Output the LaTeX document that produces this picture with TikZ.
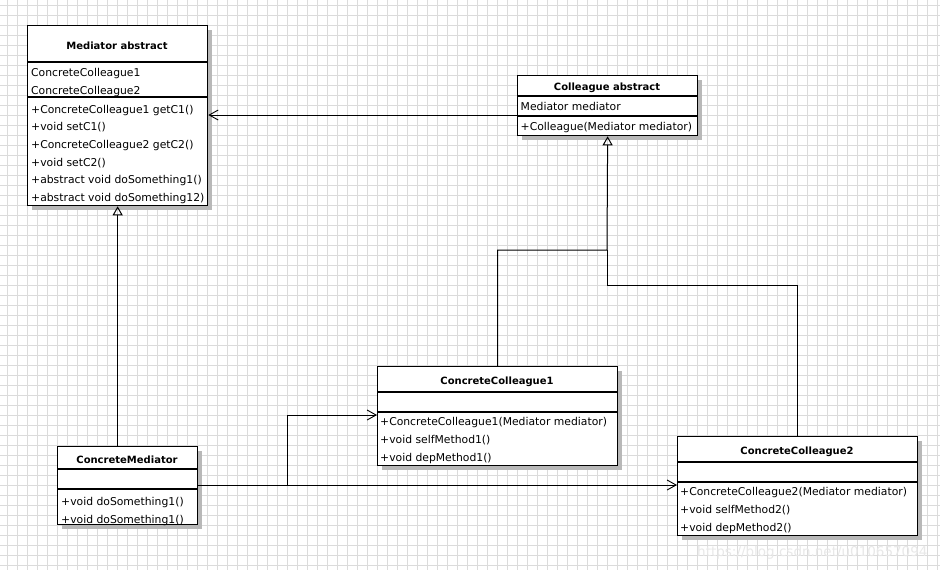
\documentclass[tikz,border=0pt]{standalone}
\usepackage{fontspec}
\setmainfont{DejaVu Sans}
\usetikzlibrary{arrows.meta,shadows}
\begin{document}
\begin{tikzpicture}[x=1pt,y=-1pt,
  gridline/.style={draw=black!14, line width=1pt},
  umlbox/.style={draw=black, line width=1.3pt, fill=white, inner sep=0pt, anchor=north west,
    general shadow={fill=black!28, shadow xshift=4pt, shadow yshift=-4pt}},
  sep/.style={draw=black, line width=1.2pt},
  title/.style={font=\fontsize{10}{12}\selectfont\bfseries, anchor=base, inner sep=0pt},
  row/.style={font=\fontsize{10.8}{13}\selectfont, anchor=base west, inner sep=0pt},
  conn/.style={draw=black, line width=1pt},
  assoc/.style={conn, -{Straight Barb[length=9pt, width=10pt, line width=0.9pt]}},
  gen/.style={conn, -{Triangle[open, length=9pt, width=10pt, line width=1pt]}}]
\useasboundingbox (0,0) rectangle (940,570);
\fill[white] (0,0) rectangle (940,570);
% grid
\foreach \gx in {7,17,...,937} \draw[gridline] (\gx,0) -- (\gx,570);
\foreach \gy in {5,15,...,565} \draw[gridline] (0,\gy) -- (940,\gy);

% connectors (drawn first, boxes cover ends)
\coordinate (j) at (607,250);
\coordinate (k) at (607,285);
\coordinate (b) at (287,485);

% boxes
\node[umlbox, minimum width=180pt, minimum height=180pt] (ma) at (27,25) {};
\node[umlbox, minimum width=180pt, minimum height=60pt] (ca) at (517,75) {};
\node[umlbox, minimum width=240pt, minimum height=99pt] (cc1) at (377,366) {};
\node[umlbox, minimum width=140pt, minimum height=78pt] (cm) at (57,446) {};
\node[umlbox, minimum width=240pt, minimum height=99pt] (cc2) at (677,436) {};

% separators
\draw[sep] (ma.west |- 0,62) -- (ma.east |- 0,62);
\draw[sep] (ma.west |- 0,97) -- (ma.east |- 0,97);
\draw[sep] (ca.west |- 0,96) -- (ca.east |- 0,96);
\draw[sep] (ca.west |- 0,116) -- (ca.east |- 0,116);
\draw[sep] (cc1.west |- 0,392) -- (cc1.east |- 0,392);
\draw[sep] (cc1.west |- 0,412) -- (cc1.east |- 0,412);
\draw[sep] (cm.west |- 0,469) -- (cm.east |- 0,469);
\draw[sep] (cm.west |- 0,489) -- (cm.east |- 0,489);
\draw[sep] (cc2.west |- 0,462) -- (cc2.east |- 0,462);
\draw[sep] (cc2.west |- 0,482) -- (cc2.east |- 0,482);

% texts: Mediator abstract
\node[title] (mat) at (117,49) {Mediator abstract};
\node[row] (ma1) at (31,76.5) {ConcreteColleague1};
\node[row] (ma2) at (31,94) {ConcreteColleague2};
\node[row] (ma3) at (31,113) {+ConcreteColleague1 getC1()};
\node[row] (ma4) at (31,130.7) {+void setC1()};
\node[row] (ma5) at (31,148.4) {+ConcreteColleague2 getC2()};
\node[row] (ma6) at (31,166.1) {+void setC2()};
\node[row] (ma7) at (31,183.8) {+abstract void doSomething1()};
\node[row] (ma8) at (31,201.5) {+abstract void doSomething12)};

% Colleague abstract
\node[title] (cat) at (607,90.5) {Colleague abstract};
\node[row] (ca1) at (520.5,110) {Mediator mediator};
\node[row] (ca2) at (520.5,130) {+Colleague(Mediator mediator)};

% ConcreteColleague1
\node[title] (cc1t) at (497,384) {ConcreteColleague1};
\node[row] (cc1a) at (380,425.7) {+ConcreteColleague1(Mediator mediator)};
\node[row] (cc1b) at (380,443.5) {+void selfMethod1()};
\node[row] (cc1c) at (380,461.5) {+void depMethod1()};

% ConcreteMediator
\node[title] (cmt) at (127,463.3) {ConcreteMediator};
\node[row] (cm1) at (61,505) {+void doSomething1()};
\node[row] (cm2) at (61,523) {+void doSomething1()};

% ConcreteColleague2
\node[title] (cc2t) at (797,454) {ConcreteColleague2};
\node[row] (cc2a) at (680,495.7) {+ConcreteColleague2(Mediator mediator)};
\node[row] (cc2b) at (680,513.5) {+void selfMethod2()};
\node[row] (cc2c) at (680,531.5) {+void depMethod2()};

% connectors
\draw[assoc] (ca.west |- 0,115) -- (ma.east |- 0,115);
\draw[gen] (cm.north -| ma.south) -- (ma.south);
\draw[gen] (cc1.north) |- (j) -- (ca.south);
\draw[conn] (cc2.north) |- (k) -- (j);
\draw[assoc] (cm.east |- b) -- (cc2.west |- b);
\draw[assoc] (b) |- (cc1.west |- 0,415);

% watermark
\node[font=\fontsize{13.5}{15}\selectfont, text=black!9, anchor=base west, inner sep=0pt] (wm) at (697,556) {https://blog.csdn.net/u010657094};
\end{tikzpicture}
\end{document}
